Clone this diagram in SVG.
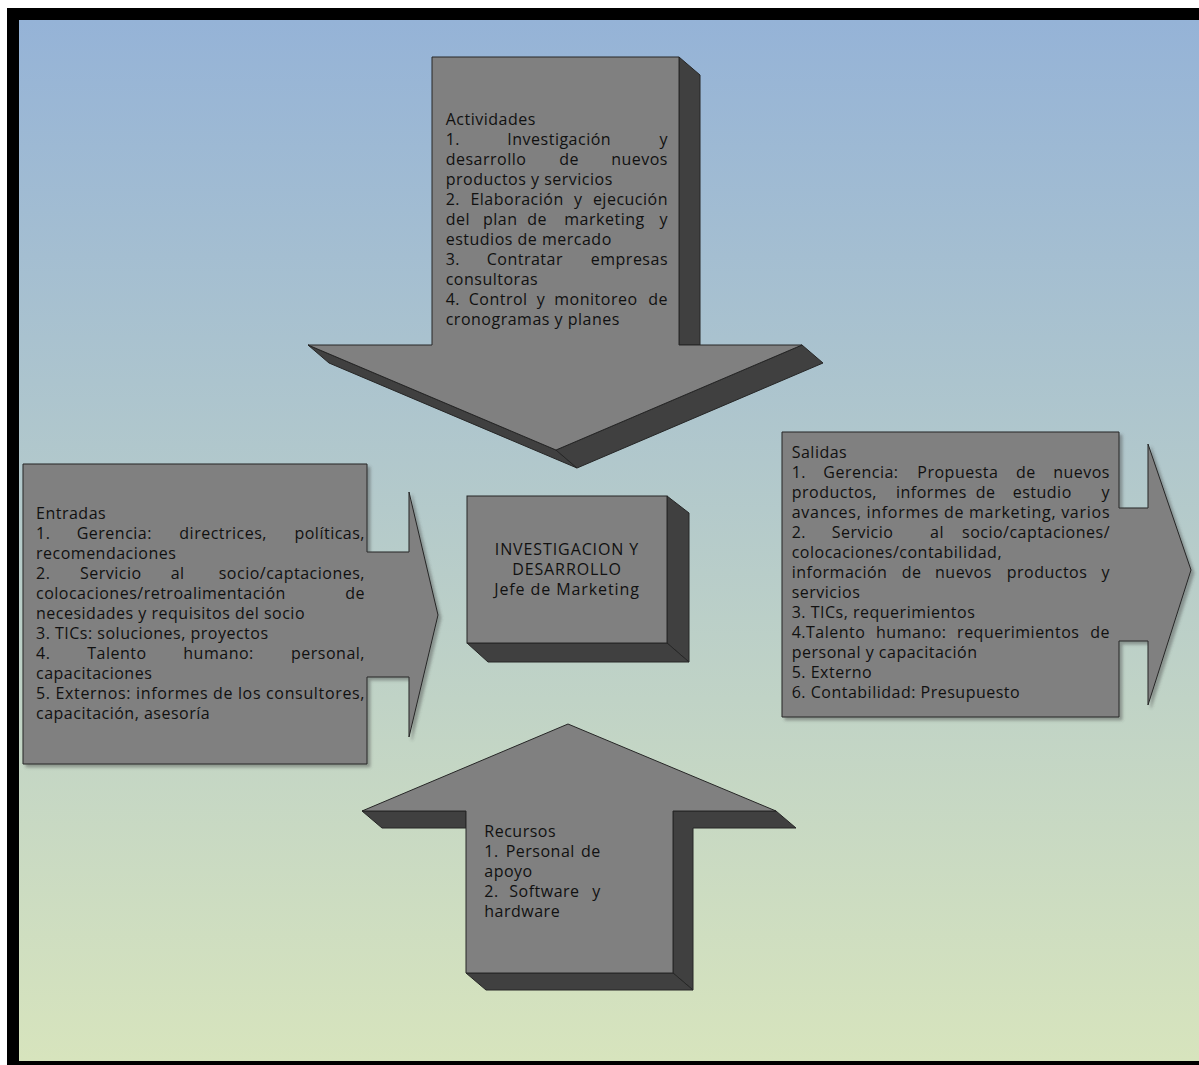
<svg xmlns="http://www.w3.org/2000/svg" width="1199" height="1065" viewBox="0 0 1199 1065">
  <defs>
    <linearGradient id="bg" x1="0" y1="0" x2="0" y2="1">
      <stop offset="0" stop-color="#95B3D7"/>
      <stop offset="1" stop-color="#D7E4BD"/>
    </linearGradient>
    <filter id="soft" x="-5%" y="-5%" width="115%" height="115%">
      <feDropShadow dx="3" dy="3" stdDeviation="1.5" flood-color="#4a4a4a" flood-opacity="0.45"/>
    </filter>
  </defs>
  <style>
    .face { fill: #808080; stroke: #262626; stroke-width: 1; stroke-linejoin: miter; }
    .side { fill: #404040; stroke: #262626; stroke-width: 1; stroke-linejoin: miter; }
    .t { font-family: "Open Sans", "Noto Sans", "DejaVu Sans", sans-serif; font-size: 16px; fill: #111111; letter-spacing: 0.5px; }
    .c { text-anchor: middle; letter-spacing: 0.9px; }
    .e { text-anchor: end; }
  </style>

  <!-- page frame and gradient backdrop -->
  <rect x="0" y="0" width="1199" height="1065" fill="#ffffff"/>
  <rect x="7" y="8" width="1192" height="1057" fill="#000000"/>
  <rect x="19" y="20" width="1180" height="1041" fill="url(#bg)"/>

  <!-- Actividades: 3D down arrow -->
  <g id="actividades">
    <polygon class="side" points="679,57 700,75 700,345 679,345"/>
    <polygon class="side" points="308,345 329,363 577,468 556,450"/>
    <polygon class="side" points="556,450 577,468 823,363 802,345"/>
    <polygon class="face" points="432,57 679,57 679,345 802,345 556,450 308,345 432,345"/>
    <text class="t" x="445.7" y="125">Actividades</text>
    <text class="t" y="145"><tspan x="445.7">1.</tspan><tspan x="507.3">Investigación</tspan><tspan class="e" x="668">y</tspan></text>
    <text class="t" y="165"><tspan x="445.7">desarrollo</tspan><tspan x="559.3">de</tspan><tspan class="e" x="668">nuevos</tspan></text>
    <text class="t" x="445.7" y="185">productos y servicios</text>
    <text class="t" y="205"><tspan x="445.7">2.</tspan><tspan x="470.4">Elaboración</tspan><tspan x="574.1">y</tspan><tspan class="e" x="668">ejecución</tspan></text>
    <text class="t" y="225"><tspan x="445.7">del</tspan><tspan x="483">plan</tspan><tspan x="527.3">de</tspan><tspan x="564.3">marketing</tspan><tspan class="e" x="668">y</tspan></text>
    <text class="t" x="445.7" y="245">estudios de mercado</text>
    <text class="t" y="265"><tspan x="445.7">3.</tspan><tspan x="486.7">Contratar</tspan><tspan class="e" x="668">empresas</tspan></text>
    <text class="t" x="445.7" y="285">consultoras</text>
    <text class="t" y="305"><tspan x="445.7">4.</tspan><tspan x="468.7">Control</tspan><tspan x="536.7">y</tspan><tspan x="554.3">monitoreo</tspan><tspan class="e" x="668">de</tspan></text>
    <text class="t" x="445.7" y="325">cronogramas y planes</text>
  </g>

  <!-- Entradas: right arrow callout -->
  <g id="entradas">
    <polygon class="face" filter="url(#soft)" points="23,464 367,464 367,552 409,552 409,492 438,615 409,737 409,677 367,677 367,764 23,764"/>
    <text class="t" x="36" y="518.5">Entradas</text>
    <text class="t" y="538.5"><tspan x="36">1.</tspan><tspan x="76.7">Gerencia:</tspan><tspan x="179.3">directrices,</tspan><tspan class="e" x="365">políticas,</tspan></text>
    <text class="t" x="36" y="558.5">recomendaciones</text>
    <text class="t" y="578.5"><tspan x="36">2.</tspan><tspan x="80">Servicio</tspan><tspan x="170.7">al</tspan><tspan class="e" x="365">socio/captaciones,</tspan></text>
    <text class="t" y="598.5"><tspan x="36">colocaciones/retroalimentación</tspan><tspan class="e" x="365">de</tspan></text>
    <text class="t" x="36" y="618.5">necesidades y requisitos del socio</text>
    <text class="t" x="36" y="638.5">3. TICs: soluciones, proyectos</text>
    <text class="t" y="658.5"><tspan x="36">4.</tspan><tspan x="87.3">Talento</tspan><tspan x="183.3">humano:</tspan><tspan class="e" x="365">personal,</tspan></text>
    <text class="t" x="36" y="678.5">capacitaciones</text>
    <text class="t" x="36" y="698.5" textLength="329" lengthAdjust="spacing">5. Externos: informes de los consultores,</text>
    <text class="t" x="36" y="718.5">capacitación, asesoría</text>
  </g>

  <!-- central process block -->
  <g id="proceso">
    <polygon class="side" points="667,496 689,513 689,662 667,643"/>
    <polygon class="side" points="467,643 667,643 689,662 488,662"/>
    <rect class="face" x="467" y="496" width="200" height="147"/>
    <text class="t c" x="567" y="554.5">INVESTIGACION Y</text>
    <text class="t c" x="567" y="574.5">DESARROLLO</text>
    <text class="t c" x="567" y="594.5">Jefe de Marketing</text>
  </g>

  <!-- Salidas: right arrow callout -->
  <g id="salidas">
    <polygon class="face" filter="url(#soft)" points="782,432 1119,432 1119,508 1148,508 1148,444 1191,570 1148,705 1148,641 1119,641 1119,717 782,717"/>
    <text class="t" x="791.7" y="458.3">Salidas</text>
    <text class="t" y="478.3"><tspan x="791.7">1.</tspan><tspan x="823.3">Gerencia:</tspan><tspan x="917.3">Propuesta</tspan><tspan x="1016">de</tspan><tspan class="e" x="1110">nuevos</tspan></text>
    <text class="t" y="498.3"><tspan x="791.7">productos,</tspan><tspan x="896">informes</tspan><tspan x="975.7">de</tspan><tspan x="1012.7">estudio</tspan><tspan class="e" x="1110">y</tspan></text>
    <text class="t" x="791.7" y="518.3" textLength="318.3" lengthAdjust="spacing">avances, informes de marketing, varios</text>
    <text class="t" y="538.3"><tspan x="791.7">2.</tspan><tspan x="831.7">Servicio</tspan><tspan x="930">al</tspan><tspan class="e" x="1110">socio/captaciones/</tspan></text>
    <text class="t" x="791.7" y="558.3">colocaciones/contabilidad,</text>
    <text class="t" y="578.3"><tspan x="791.7">información</tspan><tspan x="901.7">de</tspan><tspan x="935">nuevos</tspan><tspan x="1006.7">productos</tspan><tspan class="e" x="1110">y</tspan></text>
    <text class="t" x="791.7" y="598.3">servicios</text>
    <text class="t" x="791.7" y="618.3">3. TICs, requerimientos</text>
    <text class="t" y="638.3"><tspan x="791.7">4.Talento</tspan><tspan x="876">humano:</tspan><tspan x="957.1">requerimientos</tspan><tspan class="e" x="1110">de</tspan></text>
    <text class="t" x="791.7" y="658.3">personal y capacitación</text>
    <text class="t" x="791.7" y="678.3">5. Externo</text>
    <text class="t" x="791.7" y="698.3">6. Contabilidad: Presupuesto</text>
  </g>

  <!-- Recursos: 3D up arrow -->
  <g id="recursos">
    <polygon class="side" points="362,811 382,828 466,828 466,811"/>
    <polygon class="side" points="673,811 776,811 796,828 693,828 693,990 673,973"/>
    <polygon class="side" points="466,973 673,973 693,990 486,990"/>
    <polygon class="face" points="568,724 776,811 673,811 673,973 466,973 466,811 362,811"/>
    <text class="t" x="484.3" y="837.3">Recursos</text>
    <text class="t" y="857.3"><tspan x="484.3">1.</tspan><tspan x="505.7">Personal</tspan><tspan class="e" x="600.7">de</tspan></text>
    <text class="t" x="484.3" y="877.3">apoyo</text>
    <text class="t" y="897.3"><tspan x="484.3">2.</tspan><tspan x="509.3">Software</tspan><tspan class="e" x="600.7">y</tspan></text>
    <text class="t" x="484.3" y="917.3">hardware</text>
  </g>
</svg>
